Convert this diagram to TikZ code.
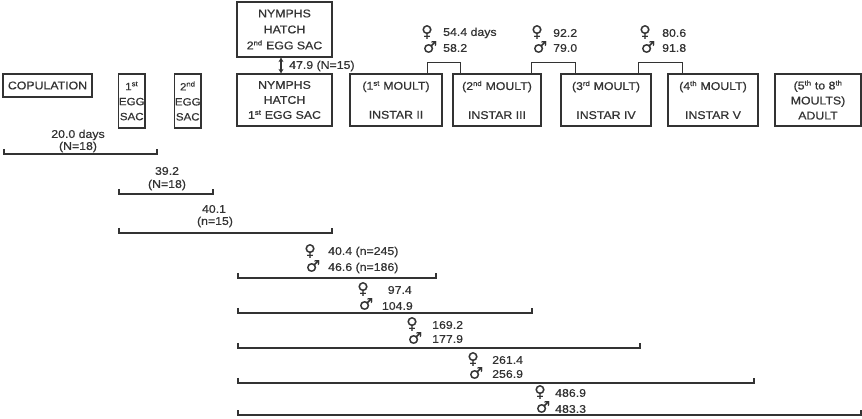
\documentclass[tikz,border=0pt]{standalone}
\usepackage{fontspec}
\setmainfont[FakeStretch=1.1,FakeBold=0.6]{Liberation Sans}
\newfontfamily\symfont[FakeBold=0.4]{DejaVu Sans}
\usetikzlibrary{arrows.meta,calc}
\definecolor{ink}{HTML}{333333}
\newcommand\mytxt{\fontsize{11.2}{15}\selectfont}
\newcommand\eggtxt{\fontsize{10.5}{15}\selectfont}
\newcommand\sups[1]{\textsuperscript{\fontsize{7}{7}\selectfont #1}}
\tikzset{
  box/.style={draw=ink, line width=1.2pt, text=ink, inner sep=0pt, align=center, font=\mytxt},
  lbl/.style={text=ink, inner sep=0pt, font=\mytxt},
  sym/.style={text=ink, inner sep=0pt, font=\symfont\fontsize{16}{16}\selectfont},
  bar/.style={draw=ink, line width=1.2pt},
}
\newcommand\brk[3]{\draw[bar] (#1,{#3-5}) -- (#1,#3) -- (#2,#3) -- (#2,{#3-5});}
\begin{document}
\begin{tikzpicture}[x=1pt,y=-1pt]
\useasboundingbox (0,0) rectangle (862,419);
% boxes
\node[box, minimum width=89pt, minimum height=23pt] (cop) at (47.5,85.5) {COPULATION};
\node[box, font=\eggtxt, minimum width=26.5pt, minimum height=54pt] (egg1) at (131.75,101) {1\sups{st}\\EGG\\SAC};
\node[box, font=\eggtxt, minimum width=26.5pt, minimum height=54pt] (egg2) at (187.75,101) {2\sups{nd}\\EGG\\SAC};
\node[box, minimum width=95pt, minimum height=55pt] (nh2) at (284.5,29.5) {NYMPHS\\[1pt]HATCH\\[1pt]2\sups{nd} EGG SAC};
\node[box, minimum width=95pt, minimum height=52pt] (nh1) at (284.5,100) {NYMPHS\\HATCH\\1\sups{st} EGG SAC};
\node[box, minimum width=92pt, minimum height=52pt] (in2) at (396,100) {(1\sups{st} MOULT)\\[14pt]INSTAR II};
\node[box, minimum width=88pt, minimum height=52pt] (in3) at (497,100) {(2\sups{nd} MOULT)\\[14pt]INSTAR III};
\node[box, minimum width=90pt, minimum height=52pt] (in4) at (606,100) {(3\sups{rd} MOULT)\\[14pt]INSTAR IV};
\node[box, minimum width=90pt, minimum height=52pt] (in5) at (713,100) {(4\sups{th} MOULT)\\[14pt]INSTAR V};
\node[box, minimum width=86pt, minimum height=52pt] (adult) at (818,100) {(5\sups{th} to 8\sups{th}\\MOULTS)\\ADULT};
% double arrow
\draw[bar, {Stealth[length=4.5pt,width=5pt]}-{Stealth[length=4.5pt,width=5pt]}] ([xshift=-3.5pt]nh2.south) -- ([xshift=-3.5pt]nh1.north);
\node[lbl, anchor=west] (n479) at (289,66) {47.9 (N=15)};
% connectors between instars
\draw[bar] ([xshift=-15pt]in2.north east) -- ++(0,-11) -| ([xshift=8pt]in3.north west);
\draw[bar] ([xshift=-10pt]in3.north east) -- ++(0,-11) -| ([xshift=15pt]in4.north west);
\draw[bar] ([xshift=-13pt]in4.north east) -- ++(0,-11) -| ([xshift=15pt]in5.north west);
% top sex labels
\node[sym] (f1) at (427,32) {♀}; \node[sym] (m1) at (430,47) {♂};
\node[lbl, anchor=west] (t1a) at (443,33) {54.4 days};
\node[lbl, anchor=west] (t1b) at (443,48) {58.2};
\node[sym] (f2) at (537,32) {♀}; \node[sym] (m2) at (540,47) {♂};
\node[lbl, anchor=west] (t2a) at (553,33) {92.2};
\node[lbl, anchor=west] (t2b) at (553,48) {79.0};
\node[sym] (f3) at (645,32) {♀}; \node[sym] (m3) at (648,47) {♂};
\node[lbl, anchor=west] (t3a) at (662,33) {80.6};
\node[lbl, anchor=west] (t3b) at (662,48) {91.8};
% bottom brackets
\brk{4}{157}{154}
\node[lbl] (b1a) at (78,135) {20.0 days};
\node[lbl] (b1b) at (78,147) {(N=18)};
\brk{119}{213}{194}
\node[lbl] (b2a) at (167,171) {39.2};
\node[lbl] (b2b) at (167,185) {(N=18)};
\brk{119}{332}{233}
\node[lbl] (b3a) at (214,209) {40.1};
\node[lbl] (b3b) at (215,222) {(n=15)};
\brk{238}{436}{278}
\node[sym] (f4) at (310,251) {♀}; \node[sym] (m4) at (313,266) {♂};
\node[lbl, anchor=west] (b4a) at (328,252) {40.4 (n=245)};
\node[lbl, anchor=west] (b4b) at (328,268) {46.6 (n=186)};
\brk{238}{532}{313}
\node[sym] (f5) at (363,289) {♀}; \node[sym] (m5) at (366,304) {♂};
\node[lbl, anchor=east] (b5a) at (412,290) {97.4};
\node[lbl, anchor=east] (b5b) at (413,306) {104.9};
\brk{238}{640}{348}
\node[sym] (f6) at (412,324) {♀}; \node[sym] (m6) at (415,338) {♂};
\node[lbl, anchor=west] (b6a) at (432,325) {169.2};
\node[lbl, anchor=west] (b6b) at (432,339) {177.9};
\brk{238}{754}{383}
\node[sym] (f7) at (473,359) {♀}; \node[sym] (m7) at (476,373) {♂};
\node[lbl, anchor=west] (b7a) at (492,360) {261.4};
\node[lbl, anchor=west] (b7b) at (492,374) {256.9};
\brk{238}{861}{415}
\node[sym] (f8) at (540,392) {♀}; \node[sym] (m8) at (543,407) {♂};
\node[lbl, anchor=west] (b8a) at (555,393) {486.9};
\node[lbl, anchor=west] (b8b) at (555,409) {483.3};
\end{tikzpicture}
\end{document}
